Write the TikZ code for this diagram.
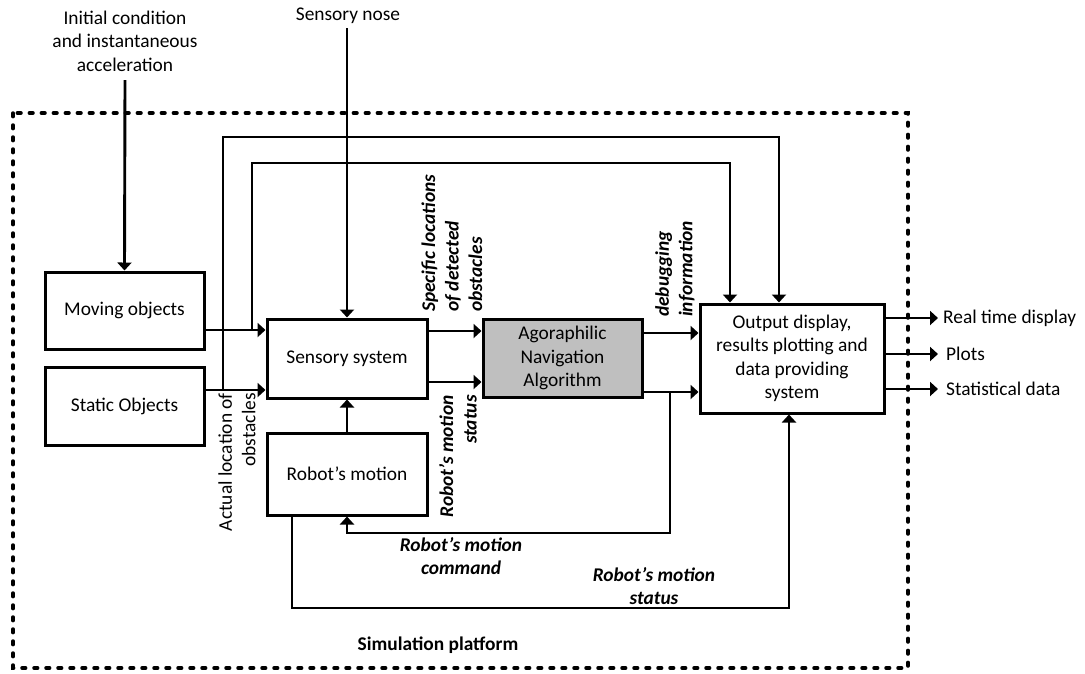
\documentclass[tikz,border=0pt]{standalone}
\usepackage{fontspec}
\setmainfont{Carlito}
\usetikzlibrary{arrows.meta}
\begin{document}
\begin{tikzpicture}[x=1pt,y=-1pt,
  every node/.style={font=\fontsize{19.4}{23.5}\selectfont, inner sep=0pt},
  block/.style={draw, line width=3pt, align=center},
  wire/.style={line width=2.9pt},
  arr/.style={wire, -{Triangle[length=8pt,width=14pt]}},
  lbl/.style={font=\fontsize{19.4}{23.5}\selectfont\bfseries\itshape},
  frame/.style={line width=3.5pt, line cap=round, dash pattern=on 3.6pt off 8.4pt}]
\useasboundingbox (0,0) rectangle (1085,673);

% simulation platform frame
\draw[frame] (13,113) rectangle (908,668);
\node[font=\fontsize{19.4}{23.5}\selectfont\bfseries] (plat) at (438,645) {Simulation platform};

% blocks
\node[block, minimum width=159pt, minimum height=77pt] (mov) at (124.5,310.5) {Moving objects};
\node[block, minimum width=159pt, minimum height=78pt] (sta) at (124.5,406) {Static Objects};
\node[block, minimum width=160pt, minimum height=79pt] (sen) at (347,358.5) {Sensory system};
\node[block, minimum width=159pt, minimum height=78pt, fill={rgb,255:red,191;green,191;blue,191}] (ago) at (562.5,358) {Agoraphilic\\Navigation\\Algorithm};
\node[block, minimum width=160pt, minimum height=82pt] (rob) at (347,474) {Robot’s motion};
\node[block, minimum width=184pt, minimum height=109pt] (out) at (792,358.5) {Output display,\\results plotting and\\data providing\\system};

% external inputs
\node[align=center] (ic) at (125,41) {Initial condition\\and instantaneous\\acceleration};
\node (nose) at (348,16) {Sensory nose};
\coordinate (icend) at (125,80);
\coordinate (noseend) at (347,28);

% routing rows and columns
\coordinate (r1) at (0,330);
\coordinate (r2) at (0,390);
\coordinate (r3) at (0,331);
\coordinate (r4) at (0,382);
\coordinate (r5) at (0,333);
\coordinate (r6) at (0,392);
\coordinate (r7) at (0,533);
\coordinate (r8) at (0,608);
\coordinate (t1) at (0,137);
\coordinate (t2) at (0,163);
\coordinate (c1) at (223,0);
\coordinate (c2) at (252,0);
\coordinate (c3) at (670,0);
\coordinate (c4) at (292,0);
\coordinate (c5) at (789,0);
\coordinate (c6) at (730,0);
\coordinate (c7) at (779,0);
\coordinate (oe) at (938,0);
\coordinate (o1) at (0,318);
\coordinate (o2) at (0,354);
\coordinate (o3) at (0,389);

% connectors
\draw[arr] (icend) -- (mov.north);
\draw[arr] (noseend) -- (sen.north);
\draw[arr] (mov.east |- r1) -- (sen.west |- r1);
\draw[arr] (sta.east |- r2) -- (sen.west |- r2);
\draw[arr] (c2 |- r1) -- (c2 |- t2) -- (c6 |- t2) -- (c6 |- out.north);
\draw[arr] (c1 |- r2) -- (c1 |- t1) -- (c7 |- t1) -- (c7 |- out.north);
\draw[arr] (sen.east |- r3) -- (ago.west |- r3);
\draw[arr] (sen.east |- r4) -- (ago.west |- r4);
\draw[arr] (ago.east |- r5) -- (out.west |- r5);
\draw[arr] (ago.east |- r6) -- (out.west |- r6);
\draw[arr] (rob.north) -- (sen.south);
\draw[arr] (c3 |- r6) -- (c3 |- r7) -- (rob.south |- r7) -- (rob.south);
\draw[arr] (c4 |- rob.south) -- (c4 |- r8) -- (c5 |- r8) -- (c5 |- out.south);

% outputs
\draw[arr] (out.east |- o1) -- (oe |- o1);
\draw[arr] (out.east |- o2) -- (oe |- o2);
\draw[arr] (out.east |- o3) -- (oe |- o3);
\node[anchor=west] (rtd) at (943,318) {Real time display};
\node[anchor=west] (plots) at (946,354) {Plots};
\node[anchor=west] (stat) at (946,389) {Statistical data};

% signal labels
\node[rotate=90, anchor=east, align=right] (actual) at (237,393) {Actual location of\\obstacles};
\node[lbl, rotate=90, anchor=west, align=left] (spec) at (452,312) {Specific locations\\of detected\\obstacles};
\node[lbl, rotate=90, anchor=east, align=right] (rms1) at (458,395) {Robot’s motion\\status};
\node[lbl, rotate=90, anchor=west, align=left] (dbg) at (675,317) {debugging\\information};
\node[lbl, align=center] (cmd) at (461,556) {Robot’s motion\\command};
\node[lbl, align=center] (rms2) at (654,586) {Robot’s motion\\status};
\end{tikzpicture}
\end{document}
